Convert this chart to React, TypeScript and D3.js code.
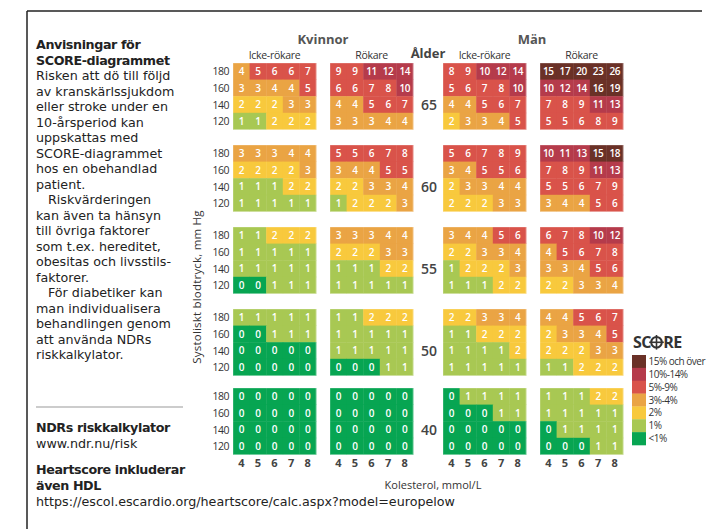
import React from "react";
import * as d3 from "d3";

const CHOL = [4, 5, 6, 7, 8];
const SBP = [180, 160, 140, 120];
const AGES = [65, 60, 55, 50, 40];

// rows per age: 180,160,140,120 ; columns cholesterol 4..8
const womenNonSmoker = [
  [[4, 5, 6, 6, 7], [3, 3, 4, 4, 5], [2, 2, 2, 3, 3], [1, 1, 2, 2, 2]],
  [[3, 3, 3, 4, 4], [2, 2, 2, 2, 3], [1, 1, 1, 2, 2], [1, 1, 1, 1, 1]],
  [[1, 1, 2, 2, 2], [1, 1, 1, 1, 1], [1, 1, 1, 1, 1], [0, 0, 1, 1, 1]],
  [[1, 1, 1, 1, 1], [0, 0, 1, 1, 1], [0, 0, 0, 0, 0], [0, 0, 0, 0, 0]],
  [[0, 0, 0, 0, 0], [0, 0, 0, 0, 0], [0, 0, 0, 0, 0], [0, 0, 0, 0, 0]],
];
const womenSmoker = [
  [[9, 9, 11, 12, 14], [6, 6, 7, 8, 10], [4, 4, 5, 6, 7], [3, 3, 3, 4, 4]],
  [[5, 5, 6, 7, 8], [3, 4, 4, 5, 5], [2, 2, 3, 3, 4], [1, 2, 2, 2, 3]],
  [[3, 3, 3, 4, 4], [2, 2, 2, 3, 3], [1, 1, 1, 2, 2], [1, 1, 1, 1, 1]],
  [[1, 1, 2, 2, 2], [1, 1, 1, 1, 1], [1, 1, 1, 1, 1], [0, 0, 0, 1, 1]],
  [[0, 0, 0, 0, 0], [0, 0, 0, 0, 0], [0, 0, 0, 0, 0], [0, 0, 0, 0, 0]],
];
const menNonSmoker = [
  [[8, 9, 10, 12, 14], [5, 6, 7, 8, 10], [4, 4, 5, 6, 7], [2, 3, 3, 4, 5]],
  [[5, 6, 7, 8, 9], [3, 4, 5, 5, 6], [2, 3, 3, 4, 4], [2, 2, 2, 3, 3]],
  [[3, 4, 4, 5, 6], [2, 2, 3, 3, 4], [1, 2, 2, 2, 3], [1, 1, 1, 2, 2]],
  [[2, 2, 3, 3, 4], [1, 1, 2, 2, 2], [1, 1, 1, 1, 2], [1, 1, 1, 1, 1]],
  [[0, 1, 1, 1, 1], [0, 0, 0, 1, 1], [0, 0, 0, 0, 0], [0, 0, 0, 0, 0]],
];
const menSmoker = [
  [[15, 17, 20, 23, 26], [10, 12, 14, 16, 19], [7, 8, 9, 11, 13], [5, 5, 6, 8, 9]],
  [[10, 11, 13, 15, 18], [7, 8, 9, 11, 13], [5, 5, 6, 7, 9], [3, 4, 4, 5, 6]],
  [[6, 7, 8, 10, 12], [4, 5, 6, 7, 8], [3, 3, 4, 5, 6], [2, 2, 3, 3, 4]],
  [[4, 4, 5, 6, 7], [2, 3, 3, 4, 5], [2, 2, 2, 3, 3], [1, 1, 2, 2, 2]],
  [[1, 1, 1, 2, 2], [1, 1, 1, 1, 1], [0, 1, 1, 1, 1], [0, 0, 0, 1, 1]],
];

const PANELS = ["wn", "ws", "mn", "ms"];
const PANEL_DATA = [womenNonSmoker, womenSmoker, menNonSmoker, menSmoker];
const PANEL_LABELS = ["Icke-rökare", "Rökare", "Icke-rökare", "Rökare"];
const GENDER_LABELS = ["Kvinnor", "Män"];

const RISK_THRESHOLDS = [1, 2, 3, 5, 10, 15];
const RISK_COLORS = ["#07a552", "#a8c853", "#f8c93d", "#eaa444", "#d9534a", "#b53b4b", "#6a3127"];
const LEGEND_LABELS = ["15% och över", "10%-14%", "5%-9%", "3%-4%", "2%", "1%", "<1%"];

const LEFT_LINES: [string, boolean, boolean][] = [
  ["Anvisningar för", true, false],
  ["SCORE-diagrammet", true, false],
  ["Risken att dö till följd", false, false],
  ["av kranskärlssjukdom", false, false],
  ["eller stroke under en", false, false],
  ["10-årsperiod kan", false, false],
  ["uppskattas med", false, false],
  ["SCORE-diagrammet", false, false],
  ["hos en obehandlad", false, false],
  ["patient.", false, false],
  ["Riskvärderingen", false, true],
  ["kan även ta hänsyn", false, false],
  ["till övriga faktorer", false, false],
  ["som t.ex. hereditet,", false, false],
  ["obesitas och livsstils-", false, false],
  ["faktorer.", false, false],
  ["För diabetiker kan", false, true],
  ["man individualisera", false, false],
  ["behandlingen genom", false, false],
  ["att använda NDRs", false, false],
  ["riskkalkylator.", false, false],
];
const BOTTOM_LINES: [string, boolean, number][] = [
  ["NDRs riskkalkylator", true, 432],
  ["www.ndr.nu/risk", false, 448],
  ["Heartscore inkluderar", true, 474],
  ["även HDL", true, 490],
  ["https://escol.escardio.org/heartscore/calc.aspx?model=europelow", false, 506],
];

const FONT = "'Open Sans', 'Noto Sans', sans-serif";
const TEXT_FONT = "'DejaVu Sans', sans-serif";

export default function App() {
  const W = 710, H = 529;
  const color = d3.scaleThreshold<number, string>().domain(RISK_THRESHOLDS).range(RISK_COLORS);
  const panelX = d3.scaleOrdinal<string, number>().domain(PANELS).range([233, 330, 443, 540]);
  const ageY = d3.scaleOrdinal<number, number>().domain(AGES).range([63, 145, 227, 309, 388]);
  const panelW = 83, panelH = 66.4;
  const x = d3.scaleBand<number>().domain(CHOL).range([0, panelW]);
  const y = d3.scaleBand<number>().domain(SBP).range([0, panelH]);
  const legendY = d3.scaleBand<string>().domain(LEGEND_LABELS).range([355, 445]);

  return (
    <svg width={W} height={H} style={{ position: "absolute", left: 0, top: 0, background: "#fff" }} fontFamily={FONT}>
      <rect width={W} height={H} fill="#fff" />
      {/* frame */}
      <line x1={27} y1={11} x2={702} y2={11} stroke="#222" strokeWidth={1.5} />
      <line x1={27} y1={11} x2={27} y2={529} stroke="#222" strokeWidth={1.5} />

      {/* left text */}
      <g fill="#222" fontSize={12.7} fontFamily={TEXT_FONT}>
        {LEFT_LINES.map(([t, b, ind], i) => (
          <text key={i} x={ind ? 48 : 36} y={49 + i * 15.5} fontWeight={b ? 700 : 400} letterSpacing={b ? -0.4 : 0}>{t}</text>
        ))}
        <line x1={36} x2={183} y1={407} y2={407} stroke="#999" strokeWidth={1} />
        {BOTTOM_LINES.map(([t, b, yy], i) => (
          <text key={"b" + i} x={36} y={yy} fontWeight={b ? 700 : 400} letterSpacing={b ? -0.4 : 0}>{t}</text>
        ))}
      </g>

      {/* headers */}
      <g fill="#555" fontWeight={700} fontSize={13} textAnchor="middle">
        <text x={323} y={44}>{GENDER_LABELS[0]}</text>
        <text x={532} y={44}>{GENDER_LABELS[1]}</text>
        <text x={428} y={58} fill="#444">Ålder</text>
      </g>
      <g fill="#333" fontSize={10.5} textAnchor="middle" letterSpacing={-0.3}>
        {PANELS.map((p, i) => (
          <text key={p} x={panelX(p) + panelW / 2} y={59}>{PANEL_LABELS[i]}</text>
        ))}
      </g>

      {/* panels */}
      {PANELS.map((p, pi) =>
        AGES.map((age, ai) => (
          <g key={p + age} transform={`translate(${panelX(p)},${ageY(age)})`}>
            {SBP.map((s, ri) =>
              CHOL.map((c, ci) => {
                const v = PANEL_DATA[pi][ai][ri][ci];
                return (
                  <g key={s + "-" + c}>
                    <rect x={x(c)} y={y(s)} width={x.bandwidth() + 0.4} height={y.bandwidth() + 0.4} fill={color(v)} />
                    <text
                      x={(x(c) as number) + x.bandwidth() / 2}
                      y={(y(s) as number) + y.bandwidth() / 2 + 3.6}
                      textAnchor="middle"
                      fill="#fff"
                      fontSize={10}
                      fontWeight={600}
                      letterSpacing={-0.4}
                    >
                      {v}
                    </text>
                  </g>
                );
              })
            )}
            <rect x={0} y={0} width={panelW} height={panelH} fill="none" stroke="#fff" strokeOpacity={0.5} strokeWidth={0.6} />
          </g>
        ))
      )}

      {/* y tick labels */}
      {AGES.map((age) => (
        <g key={"yt" + age} fill="#333" fontSize={10.5} textAnchor="end" letterSpacing={-0.5}>
          {SBP.map((s) => (
            <text key={s} x={229} y={ageY(age) + (y(s) as number) + y.bandwidth() / 2 + 4}>{s}</text>
          ))}
        </g>
      ))}

      {/* age labels */}
      {AGES.map((age) => (
        <text key={"age" + age} x={429} y={ageY(age) + 47} textAnchor="middle" fill="#444" fontSize={14} fontWeight={600}>
          {age}
        </text>
      ))}

      {/* x tick labels */}
      {PANELS.map((p) => (
        <g key={"xt" + p} fill="#444" fontSize={11} fontWeight={700} textAnchor="middle">
          {CHOL.map((c) => (
            <text key={c} x={panelX(p) + (x(c) as number) + x.bandwidth() / 2} y={467}>{c}</text>
          ))}
        </g>
      ))}

      <text x={433} y={489} textAnchor="middle" fontSize={11} fill="#333">Kolesterol, mmol/L</text>
      <text transform="translate(201,287) rotate(-90)" textAnchor="middle" fontSize={11.5} letterSpacing={0.2} fill="#333">Systoliskt blodtryck, mm Hg</text>

      {/* legend */}
      <g>
        <text x={633} y={348} fontSize={16} fontWeight={700} fill="#333" letterSpacing={-0.5}>
          SC<tspan fill="none">O</tspan>RE
        </text>
        {(() => {
          const cx = 656.5, cy = 342.3, r = 5.3;
          return (
            <g stroke="#333" fill="none">
              <circle cx={cx} cy={cy} r={r} strokeWidth={2} />
              <line x1={cx - r - 2} x2={cx + r + 2} y1={cy} y2={cy} strokeWidth={1.6} />
              <line x1={cx} x2={cx} y1={cy - r - 2} y2={cy + r + 2} strokeWidth={1.6} />
            </g>
          );
        })()}
        {LEGEND_LABELS.map((l, i) => (
          <g key={l}>
            <rect x={632} y={legendY(l)} width={14} height={legendY.bandwidth() + 0.3} fill={RISK_COLORS[RISK_COLORS.length - 1 - i]} />
            <text x={648.5} y={(legendY(l) as number) + legendY.bandwidth() / 2 + 3.5} fontSize={10} fill="#333" letterSpacing={-0.5}>
              {l}
            </text>
          </g>
        ))}
      </g>
    </svg>
  );
}
